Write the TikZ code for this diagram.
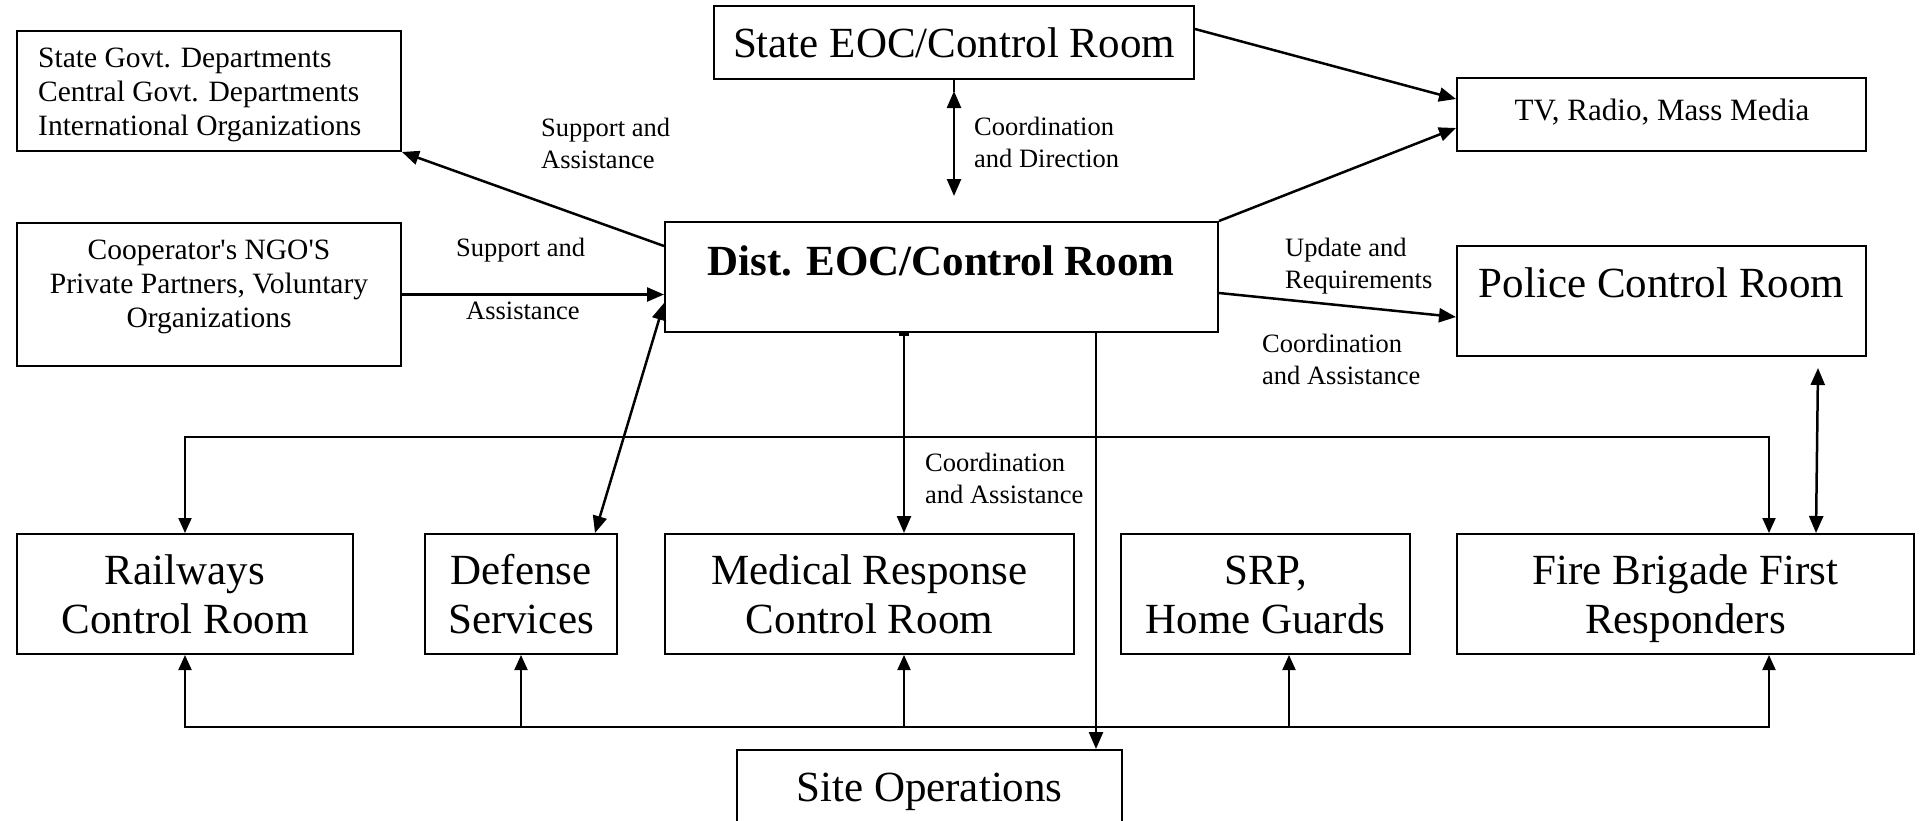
\documentclass[tikz,border=0pt]{standalone}
\usepackage{fontspec}
\setmainfont{Liberation Serif}[Ligatures=TeXOff]
\usetikzlibrary{arrows.meta,calc,fit}
\begin{document}
\begin{tikzpicture}[x=1pt,y=-1pt,
  box/.style={draw, line width=2pt, inner sep=0pt, rectangle},
  big/.style={font=\fontsize{43}{49}\selectfont, align=center, inner sep=0pt},
  mid/.style={font=\fontsize{29.5}{34}\selectfont, inner sep=0pt},
  lbl/.style={font=\fontsize{26.5}{32}\selectfont, align=left, inner sep=0pt, anchor=west},
  tip/.tip={Triangle[length=17pt,width=14pt]},
  btip/.tip={Triangle[length=15pt,width=13pt]},
  arr/.style={line width=2.5pt, -tip},
  darr/.style={line width=2.5pt, tip-tip},
  ln/.style={line width=2.5pt},
  bus/.style={line width=2pt},
]
\useasboundingbox (0,0) rectangle (1920,820);
\clip (0,0) rectangle (1920,820);
\fill[white] (0,0) rectangle (1920,820);

% boxes
\node[box, fit={(17,31) (401,151)}] (gov) {};
\node[box, fit={(17,223) (401,366)}] (ngo) {};
\node[box, fit={(714,6) (1194,79)}] (state) {};
\node[box, fit={(665,222) (1218,332)}] (dist) {};
\node[box, fit={(1457,78) (1866,151)}] (tv) {};
\node[box, fit={(1457,246) (1866,356)}] (police) {};
\node[box, fit={(17,534) (353,654)}] (rail) {};
\node[box, fit={(425,534) (617,654)}] (def) {};
\node[box, fit={(665,534) (1074,654)}] (med) {};
\node[box, fit={(1121,534) (1410,654)}] (srp) {};
\node[box, fit={(1457,534) (1914,654)}] (fire) {};
\node[box, fit={(737,750) (1122,860)}] (site) {};

% box texts
\node[mid, align=left, anchor=west] (govt) at (38,94.7) {State Govt. Departments\\Central Govt. Departments\\International Organizations};
\node[mid, align=center] (ngot) at (209,286.7) {Cooperator's NGO'S\\Private Partners, Voluntary\\Organizations};
\node[big, anchor=base] (statet) at (954,57) {State EOC/Control Room};
\node[big, anchor=base, font=\fontsize{43}{49}\selectfont\bfseries] (distt) at (941,275) {Dist. EOC/Control Room};
\node[big, anchor=base, font=\fontsize{31}{36}\selectfont] (tvt) at (1662,120) {TV, Radio, Mass Media};
\node[big, anchor=base] (policet) at (1661.5,297) {Police Control Room};
\node[big] (railt) at (185,594.5) {Railways\\Control Room};
\node[big] (deft) at (521,594.5) {Defense\\Services};
\node[big] (medt) at (869.5,594.5) {Medical Response\\Control Room};
\node[big] (srpt) at (1265.5,595) {SRP,\\Home Guards};
\node[big] (firet) at (1685.5,599) {Fire Brigade First\\Responders};
\node[big, anchor=base] (sitet) at (929.5,801) {Site Operations};

% connector labels
\node[lbl] (l1) at (541,143) {Support and\\Assistance};
\node[lbl, anchor=base west] (l2) at (456,256) {Support and};
\node[lbl, anchor=base west] (l3) at (466,319) {Assistance};
\node[lbl] (l4) at (974,142) {Coordination\\and Direction};
\node[lbl] (l5) at (1285,266.3) {Update and\\Requirements};
\node[lbl] (l6) at (1262,359.5) {Coordination\\and Assistance};
\node[lbl] (l7) at (925,478) {Coordination\\and Assistance};

% connectors
\draw[arr] ($(dist.north west)+(0,25)$) -- (gov.south east);
\draw[arr] (ngo.east) -- (ngo.east -| dist.west);
\draw[darr] ($(def.north east)+(-23,0)$) -- ($(dist.south west)+(0,-30)$);
\draw[ln] (state.south) -- ($(state.south)+(0,12)$);
\draw[darr] ($(state.south)+(0,11)$) -- ($(state.south |- dist.north)+(0,-25)$);
\draw[arr] ($(state.north east)+(0,24)$) -- ($(tv.north west)+(0,22)$);
\draw[arr] (dist.north east) -- ($(tv.south west)+(0,-24)$);
\draw[arr] ($(dist.north east)+(0,72)$) -- ($(police.north west)+(0,72)$);
\draw[darr] ($(police.south east)+(-49,11)$) -- ($(fire.north west)+(360,0)$);
\draw[ln, {Bar[width=10pt]}-tip] ($(dist.south west)+(240,0)$) -- ($(med.north west)+(240,0)$);
\coordinate (siteout) at ($(dist.south west)+(432,0)$);
\draw[arr] (siteout) -- (siteout |- site.north);

% buses
\draw[bus, btip-btip] (rail.north) -- ++(0,-96) -| ($(fire.north west)+(313,0)$);
\coordinate (busR) at ($(fire.south west)+(313,72)$);
\draw[bus, btip-btip] (rail.south) |- (busR) -- ($(fire.south west)+(313,0)$);
\draw[bus, -btip] ($(def.south)+(0,72)$) -- (def.south);
\draw[bus, -btip] ($(med.south west)+(240,72)$) -- ($(med.south west)+(240,0)$);
\draw[bus, -btip] ($(srp.south west)+(169,72)$) -- ($(srp.south west)+(169,0)$);
\end{tikzpicture}
\end{document}
